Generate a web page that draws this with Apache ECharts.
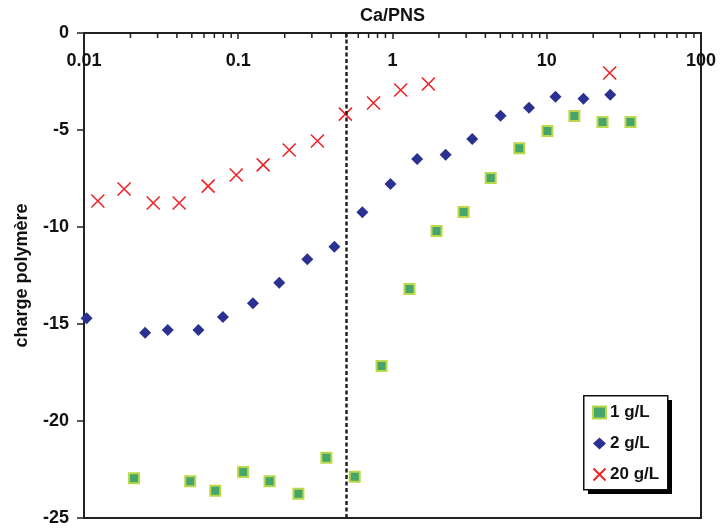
<!DOCTYPE html>
<html><head><meta charset="utf-8">
<script src="https://cdn.jsdelivr.net/npm/echarts@6/dist/echarts.min.js"></script>
<style>html,body{margin:0;padding:0;background:#fff}#c{width:722px;height:530px}</style>
</head><body><div id="c"></div>
<script>
// 1 g/L
const x1 = [0.0211,0.0488,0.071,0.1076,0.1596,0.2455,0.3726,0.569,0.849,1.288,1.93,2.89,4.33,6.64,10.1,15.1,23.0,34.9];
const y1 = [-22.95,-23.11,-23.59,-22.63,-23.11,-23.75,-21.89,-22.87,-17.16,-13.2,-10.2,-9.23,-7.47,-5.94,-5.05,-4.28,-4.59,-4.59];
// 2 g/L
const x2 = [0.0104,0.0249,0.0349,0.0552,0.0796,0.1245,0.1845,0.2805,0.420,0.638,0.970,1.445,2.21,3.29,5.02,7.67,11.4,17.3,25.8];
const y2 = [-14.71,-15.45,-15.31,-15.31,-14.64,-13.93,-12.87,-11.66,-11.02,-9.24,-7.78,-6.49,-6.27,-5.46,-4.26,-3.85,-3.28,-3.39,-3.18];
// 20 g/L
const x20 = [0.0123,0.0182,0.0281,0.0414,0.0638,0.097,0.145,0.214,0.326,0.495,0.753,1.13,1.71,25.6];
const y20 = [-8.66,-8.04,-8.76,-8.76,-7.89,-7.32,-6.80,-6.03,-5.57,-4.18,-3.61,-2.94,-2.63,-2.06];

const seriesNames = ['1 g/L','2 g/L','20 g/L'];
const xTickLabels = ['0.01','0.1','1','10','100'];
const minorTickValues = [0.02,0.03,0.04,0.05,0.06,0.07,0.08,0.09,0.2,0.3,0.4,0.5,0.6,0.7,0.8,0.9,2,3,4,5,6,7,8,9,20,30,40,50,60,70,80,90];
const dashedX = 0.5;

const zip = (a,b)=>a.map((v,i)=>[v,b[i]]);
const font = {fontFamily:'Liberation Sans, Arial, sans-serif', fontWeight:'bold', color:'#111'};

const chart = echarts.init(document.getElementById('c'));
chart.setOption({
  animation:false,
  graphic:[
    {type:'rect', left:588, top:400, shape:{width:84, height:94}, style:{fill:'#000'}, z:10},
    {type:'rect', left:583, top:395, shape:{width:84, height:94}, style:{fill:'#fff', stroke:'#111', lineWidth:1.5}, z:11}
  ],
  grid:{left:84, top:33, right:21, bottom:12, outerBoundsMode:'none', containLabel:false,
        show:true, borderColor:'#222', borderWidth:2, backgroundColor:'transparent'},
  legend:{
    orient:'vertical', left:591, top:404, z:20,
    data:seriesNames,
    padding:0, itemGap:14, itemWidth:13, itemHeight:12,
    textStyle:Object.assign({fontSize:17, padding:[0,0,0,-1]}, font)
  },
  xAxis:{
    type:'log', logBase:10, min:0.01, max:100, position:'top',
    name:'Ca/PNS', nameLocation:'middle', nameGap:8,
    nameTextStyle:Object.assign({fontSize:18}, font),
    axisLine:{show:true, lineStyle:{color:'#222', width:2}},
    axisTick:{show:true, inside:true, length:6, lineStyle:{color:'#222', width:1.5}},
    axisLabel:Object.assign({inside:true, margin:19, fontSize:18,
      formatter:(v)=>xTickLabels[Math.round(Math.log10(v))+2]}, font),
    splitLine:{show:false}
  },
  yAxis:{
    type:'value', min:-25, max:0, interval:5,
    name:'charge polymère', nameLocation:'middle', nameGap:53, nameRotate:90,
    nameTextStyle:Object.assign({fontSize:18}, font),
    axisLine:{show:true, lineStyle:{color:'#222', width:2}},
    axisTick:{show:true, length:7, lineStyle:{color:'#222', width:1.5}},
    axisLabel:Object.assign({fontSize:18, margin:15}, font),
    splitLine:{show:false}
  },
  series:[
    {name:seriesNames[0], type:'scatter', data:zip(x1,y1), symbol:'rect', symbolSize:10,
     itemStyle:{color:'#45a56a', borderColor:'#b9d84a', borderWidth:2, opacity:1}, z:3},
    {name:seriesNames[1], type:'scatter', data:zip(x2,y2), symbol:'diamond', symbolSize:12,
     itemStyle:{color:'#2b3190', opacity:1}, z:3},
    {name:seriesNames[2], type:'scatter', data:zip(x20,y20), symbol:'path://M0,0L10,10M10,0L0,10', symbolSize:13,
     itemStyle:{color:'none', borderColor:'#ee2328', borderWidth:1.6, opacity:1}, z:3,
     markLine:{silent:true, symbol:'none', label:{show:false},
       lineStyle:{color:'#222', type:[4,2.5], width:2.5},
       data:[{xAxis:dashedX}]}},
    {type:'custom', silent:true, data:minorTickValues.map(v=>[v,0]), z:4, clip:false,
     renderItem:(params, api)=>{
       const p = api.coord([api.value(0), api.value(1)]);
       return {type:'line', shape:{x1:p[0], y1:p[1], x2:p[0], y2:p[1]+5}, style:{stroke:'#222', lineWidth:1.5}};
     }}
  ]
});
</script></body></html>
